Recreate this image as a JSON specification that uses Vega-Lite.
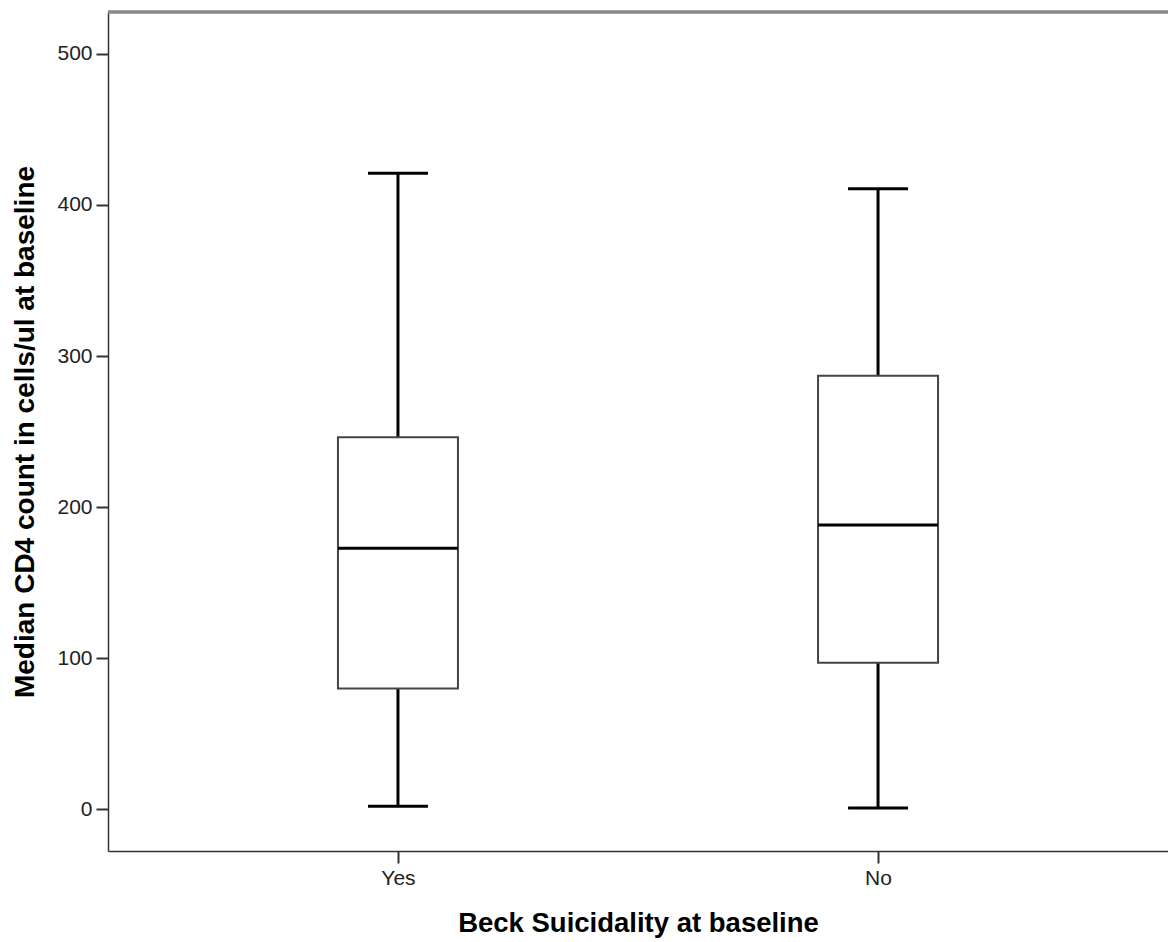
{
  "$schema": "https://vega.github.io/schema/vega-lite/v6.json",
  "autosize": "none",
  "width": 1060,
  "height": 839,
  "padding": {"left": 108, "top": 12, "right": 0, "bottom": 91},
  "background": "white",
  "config": {
    "view": {"stroke": null},
    "font": "Liberation Sans",
    "axis": {
      "labelFont": "Liberation Sans",
      "titleFont": "Liberation Sans",
      "labelColor": "#222",
      "titleColor": "#000",
      "domainColor": "#333",
      "domainWidth": 1.5,
      "tickColor": "#333",
      "tickWidth": 2,
      "grid": false
    }
  },
  "data": {
    "values": [
      {"group": "Yes", "min": 2.0, "q1": 80.0, "median": 172.7, "q3": 246.2, "max": 420.9},
      {"group": "No", "min": 0.9, "q1": 97.0, "median": 188.2, "q3": 287.0, "max": 410.7}
    ]
  },
  "encoding": {
    "x": {
      "field": "group",
      "type": "nominal",
      "sort": ["Yes", "No"],
      "scale": {"type": "point", "padding": 0.604},
      "axis": {
        "title": "Beck Suicidality at baseline",
        "titleFontSize": 27.5,
        "titleFontWeight": "bold",
        "titlePadding": 21,
        "labelFontSize": 21,
        "labelAngle": 0,
        "labelPadding": 4,
        "tickSize": 12
      }
    }
  },
  "layer": [
    {
      "mark": {"type": "rule", "color": "#000", "strokeWidth": 3},
      "encoding": {
        "y": {
          "field": "min",
          "type": "quantitative",
          "scale": {"domain": [-27.6, 527.7], "nice": false, "zero": false},
          "axis": {
            "title": "Median CD4 count in cells/ul at baseline",
            "titleFontSize": 28,
            "titleFontWeight": "bold",
            "titlePadding": 17,
            "labelFontSize": 21,
            "labelPadding": 4,
            "tickSize": 12,
            "values": [0, 100, 200, 300, 400, 500]
          }
        },
        "y2": {"field": "q1"}
      }
    },
    {
      "mark": {"type": "rule", "color": "#000", "strokeWidth": 3},
      "encoding": {
        "y": {"field": "q3", "type": "quantitative"},
        "y2": {"field": "max"}
      }
    },
    {
      "mark": {"type": "bar", "size": 120, "fill": "white", "stroke": "#444", "strokeWidth": 2},
      "encoding": {
        "y": {"field": "q1", "type": "quantitative"},
        "y2": {"field": "q3"}
      }
    },
    {
      "mark": {"type": "tick", "size": 120, "thickness": 3, "color": "#000", "opacity": 1},
      "encoding": {"y": {"field": "median", "type": "quantitative"}}
    },
    {
      "mark": {"type": "tick", "size": 60, "thickness": 3, "color": "#000", "opacity": 1},
      "encoding": {"y": {"field": "min", "type": "quantitative"}}
    },
    {
      "mark": {"type": "tick", "size": 60, "thickness": 3, "color": "#000", "opacity": 1},
      "encoding": {"y": {"field": "max", "type": "quantitative"}}
    },
    {
      "mark": {"type": "rule", "color": "#888", "strokeWidth": 3},
      "encoding": {"y": {"datum": 527.7, "type": "quantitative"}, "x": {"value": 0}, "x2": {"value": 1060}}
    }
  ]
}
